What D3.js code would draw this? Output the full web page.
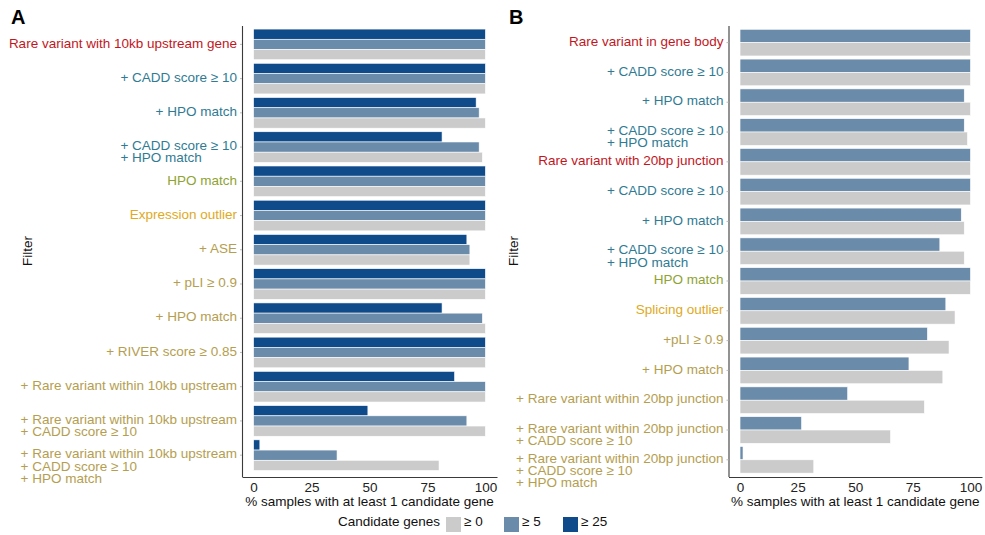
<!DOCTYPE html>
<html>
<head>
<meta charset="utf-8">
<script src="https://cdn.jsdelivr.net/npm/d3@7"></script>
<style>
  body { margin: 0; background: #fff; }
  text { font-family: "Liberation Sans", Arial, Helvetica, sans-serif; }
</style>
</head>
<body>
<svg id="chart" width="985" height="535"></svg>
<script>
// ---- data: panel A (expression outliers) ----
const filtersA = [
  "Rare variant with 10kb upstream gene",
  "+ CADD score ≥ 10",
  "+ HPO match",
  "+ CADD score ≥ 10\n+ HPO match",
  "HPO match",
  "Expression outlier",
  "+ ASE",
  "+ pLI ≥ 0.9",
  "+ HPO match",
  "+ RIVER score ≥ 0.85",
  "+ Rare variant within 10kb upstream",
  "+ Rare variant within 10kb upstream\n+ CADD score ≥ 10",
  "+ Rare variant within 10kb upstream\n+ CADD score ≥ 10\n+ HPO match"
];
const kindsA = ["variant", "annotation", "annotation", "annotation", "hpo", "outlier",
  "outlierFilter", "outlierFilter", "outlierFilter", "outlierFilter", "outlierFilter",
  "outlierFilter", "outlierFilter"];
const geneA0 = [100, 100, 100, 98.7, 100, 100, 93.3, 100, 100, 100, 100, 100, 80];
const geneA5 = [100, 100, 97.3, 97.3, 100, 100, 93.3, 100, 98.7, 100, 100, 92, 36];
const geneA25 = [100, 100, 96, 81.3, 100, 100, 92, 100, 81.3, 100, 86.7, 49.3, 2.7];

// ---- data: panel B (splicing outliers) ----
const filtersB = [
  "Rare variant in gene body",
  "+ CADD score ≥ 10",
  "+ HPO match",
  "+ CADD score ≥ 10\n+ HPO match",
  "Rare variant with 20bp junction",
  "+ CADD score ≥ 10",
  "+ HPO match",
  "+ CADD score ≥ 10\n+ HPO match",
  "HPO match",
  "Splicing outlier",
  "+pLI ≥ 0.9",
  "+ HPO match",
  "+ Rare variant within 20bp junction",
  "+ Rare variant within 20bp junction\n+ CADD score ≥ 10",
  "+ Rare variant within 20bp junction\n+ CADD score ≥ 10\n+ HPO match"
];
const kindsB = ["variant", "annotation", "annotation", "annotation", "variant", "annotation",
  "annotation", "annotation", "hpo", "outlier", "outlierFilter", "outlierFilter",
  "outlierFilter", "outlierFilter", "outlierFilter"];
const geneB0 = [100, 100, 100, 98.7, 100, 100, 97.3, 97.3, 100, 93.3, 90.7, 88, 80, 65.3, 32];
const geneB5 = [100, 100, 97.3, 97.3, 100, 100, 96, 86.7, 100, 89.3, 81.3, 73.3, 46.7, 26.7, 1.3];

const xTicks = [0, 25, 50, 75, 100];
const legendKeys = ["≥ 0", "≥ 5", "≥ 25"];

// ---- styles ----
const barColor = { "≥ 0": "#cbcbcb", "≥ 5": "#6a8ba9", "≥ 25": "#0f4a8a" };
const labelColor = {
  variant: "#c2161d",
  annotation: "#2f7b93",
  hpo: "#8ea331",
  outlier: "#e0a91e",
  outlierFilter: "#b59e4f"
};
const fontSize = 13.5;

const svg = d3.select("#chart");
const panelTop = 26, panelBottom = 477;

function drawPanel(opts) {
  const g = svg.append("g");

  const x = d3.scaleLinear().domain([-5, 105]).range([opts.left, opts.right]);
  const y = d3.scaleBand()
    .domain(d3.range(opts.filters.length))
    .range([panelTop, panelBottom])
    .paddingInner(0.105)
    .paddingOuter(opts.outer)
    .align(opts.align);
  const sub = d3.scaleBand().domain(opts.series.map(s => s.key)).range([0, y.bandwidth()]);

  // bars
  opts.series.forEach(s => {
    g.append("g")
      .selectAll("rect")
      .data(s.values)
      .enter()
      .append("rect")
      .attr("x", x(0))
      .attr("y", (d, i) => y(i) + sub(s.key))
      .attr("width", d => x(d) - x(0))
      .attr("height", sub.bandwidth())
      .attr("fill", barColor[s.key])
      .attr("stroke", "#fff")
      .attr("stroke-width", 0.6);
  });

  // x axis
  const xAxis = g.append("g")
    .attr("transform", "translate(0," + panelBottom + ")")
    .call(d3.axisBottom(x).tickValues(xTicks).tickSize(0).tickSizeOuter(0).tickPadding(5));
  xAxis.select(".domain").attr("stroke", "#3a3a3a").attr("stroke-width", 1.1);
  xAxis.selectAll("text").attr("font-size", fontSize).attr("fill", "#222");

  // y axis with multi-line coloured labels (block right-aligned, lines left-aligned)
  const yAxis = g.append("g")
    .attr("transform", "translate(" + opts.left + ",0)")
    .call(d3.axisLeft(y).tickSize(2).tickSizeOuter(0).tickPadding(3));
  yAxis.select(".domain").attr("d", "M0.5," + panelTop + "V" + panelBottom)
    .attr("stroke", "#3a3a3a").attr("stroke-width", 1.1);
  yAxis.selectAll(".tick line").attr("stroke", "#bbb");
  yAxis.selectAll(".tick text").each(function (i) {
    const t = d3.select(this)
      .attr("dy", null)
      .attr("y", 3.2)
      .attr("font-size", fontSize)
      .attr("fill", labelColor[opts.kinds[i]])
      .attr("text-anchor", "start")
      .text(null);
    const spans = opts.filters[i].split("\n").map((line, k) =>
      t.append("tspan").attr("dy", k === 0 ? 0 : 12.2).text(line));
    const widest = d3.max(spans, s => s.node().getComputedTextLength());
    spans.forEach(s => s.attr("x", -5 - widest));
  });

  // axis titles
  g.append("text")
    .attr("x", (opts.left + opts.right) / 2)
    .attr("y", 506)
    .attr("text-anchor", "middle")
    .attr("font-size", fontSize)
    .attr("fill", "#111")
    .text("% samples with at least 1 candidate gene");

  g.append("text")
    .attr("transform", "translate(" + opts.filterX + ",251) rotate(-90)")
    .attr("text-anchor", "middle")
    .attr("font-size", fontSize)
    .attr("fill", "#111")
    .text("Filter");

  g.append("text")
    .attr("x", opts.letterX)
    .attr("y", 24)
    .attr("font-size", 20)
    .attr("font-weight", "bold")
    .attr("fill", "#000")
    .text(opts.letter);
}

drawPanel({
  letter: "A", letterX: 11, filterX: 32,
  left: 242, right: 497, outer: 0.14, align: 0.32,
  filters: filtersA, kinds: kindsA,
  series: [
    { key: "≥ 25", values: geneA25 },
    { key: "≥ 5", values: geneA5 },
    { key: "≥ 0", values: geneA0 }
  ]
});

drawPanel({
  letter: "B", letterX: 509, filterX: 518,
  left: 728.5, right: 982, outer: 0.12, align: 0.46,
  filters: filtersB, kinds: kindsB,
  series: [
    { key: "≥ 5", values: geneB5 },
    { key: "≥ 0", values: geneB0 }
  ]
});

// legend
const legend = svg.append("g").attr("transform", "translate(338,0)");
legend.append("text")
  .attr("x", 0).attr("y", 526)
  .attr("font-size", fontSize).attr("fill", "#111")
  .text("Candidate genes");
const legendX = d3.scaleOrdinal().domain(legendKeys).range([108, 166, 225]);
const entry = legend.selectAll("g.entry")
  .data(legendKeys)
  .enter()
  .append("g")
  .attr("class", "entry")
  .attr("transform", d => "translate(" + legendX(d) + ",517)");
entry.append("rect")
  .attr("width", 15).attr("height", 15)
  .attr("fill", d => barColor[d]);
entry.append("text")
  .attr("x", 18).attr("y", 9)
  .attr("font-size", fontSize).attr("fill", "#111")
  .text(d => d);
</script>
</body>
</html>
